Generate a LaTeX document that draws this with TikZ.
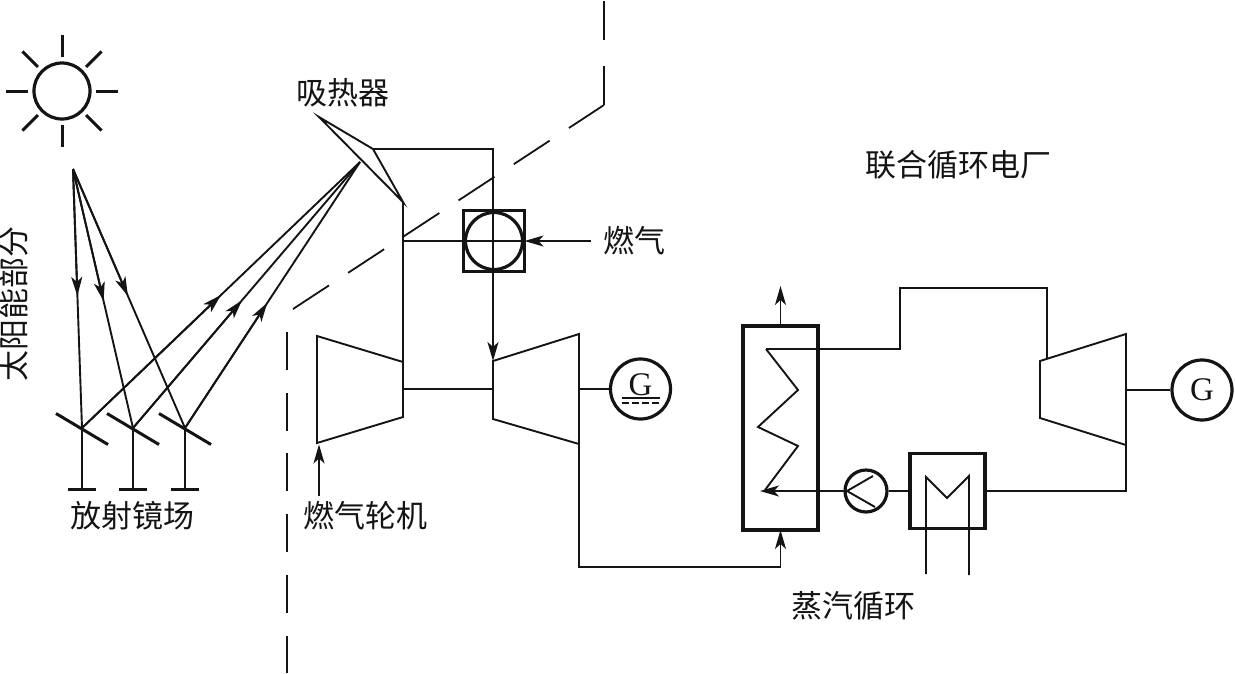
\documentclass[tikz,border=0pt]{standalone}
\usepackage{fontspec}
\usetikzlibrary{arrows.meta,calc}
\newfontfamily\cjk{Noto Sans CJK SC}
\newfontfamily\genfont{Liberation Serif}
\definecolor{plantink}{HTML}{141414}

\begin{document}
\begin{tikzpicture}[
  x=1pt,
  y=-1pt,
  every node/.style={plantink},
  pipe/.style={plantink, line width=1.9pt},
  flow/.style={plantink, line width=1.9pt,
               -{Stealth[length=19pt, width=11pt, inset=5pt]}},
  heavy/.style={plantink, line width=3pt},
  boundary/.style={plantink, line width=1.8pt},
  label/.style={font=\cjk\fontsize{31}{31}\selectfont, inner sep=0pt},
  vessel/.style={draw, plantink, line width=3.6pt, outer sep=0pt, inner sep=0pt},
  gencircle/.style={draw, circle, plantink, line width=3.2pt, inner sep=0pt,
               minimum size=60pt, font=\genfont\fontsize{33}{33}\selectfont}
]
  \useasboundingbox (0,0) rectangle (1235,673);

  % ---- sun ----------------------------------------------------------------
  \node[draw, circle, plantink, line width=3.2pt, inner sep=0pt,
        minimum size=56pt] (sun) at (62,91) {};
  \foreach \a in {0,45,...,315}
    \draw[heavy] ([shift={(\a:34)}]sun.center) -- ([shift={(\a:56)}]sun.center);

  % ---- heliostat field ----------------------------------------------------
  \coordinate (sunfocus) at (73,169);
  \coordinate (recvfocus) at (360,162);
  \foreach \m/\mx/\td/\tu in {a/82/.49/.50, b/133/.51/.48, c/185/.49/.47} {
    \coordinate (mirror\m) at (\mx,428);
    \coordinate (foot\m) at (\mx,489);
    \draw[heavy] ([shift={(-26,-14.5)}]mirror\m) -- ([shift={(26,16.5)}]mirror\m);
    \draw[pipe] (mirror\m) -- (foot\m);
    \draw[heavy] ([xshift=-14pt]foot\m) -- ([xshift=14pt]foot\m);
    % incoming and reflected beam, arrow near the middle of each
    \draw[pipe] (sunfocus) -- (mirror\m);
    \draw[flow] (sunfocus) -- ($(sunfocus)!\td!(mirror\m)$);
    \draw[pipe] (mirror\m) -- (recvfocus);
    \draw[flow] (mirror\m) -- ($(mirror\m)!\tu!(recvfocus)$);
  }

  % ---- receiver -----------------------------------------------------------
  \coordinate (recvtip) at (319,117);
  \coordinate (recvtop) at (373,149);
  \coordinate (recvlow) at (403,202);
  \draw[pipe] (recvtip) -- (recvtop) -- (recvlow) -- cycle;

  % ---- gas turbine set ----------------------------------------------------
  \coordinate (compa) at (317,336);
  \coordinate (compb) at (403,362);
  \coordinate (compc) at (403,417);
  \coordinate (compd) at (317,443);
  \draw[pipe] (compa) -- (compb) -- (compc) -- (compd) -- cycle;

  \coordinate (gasta) at (493,361);
  \coordinate (gastb) at (579,334);
  \coordinate (gastc) at (579,444);
  \coordinate (gastd) at (493,419);
  \draw[pipe] (gasta) -- (gastb) -- (gastc) -- (gastd) -- cycle;

  \node[vessel, minimum size=61pt] (burner) at (494,241) {};
  \node[draw, circle, plantink, line width=3.2pt, inner sep=0pt,
        minimum size=57pt] (burnerring) at (494,241) {};
  \node[gencircle] (gena) at (640.5,389) {};
  \node[inner sep=0pt, font=\genfont\fontsize{33}{33}\selectfont] (genaletter)
    at ([yshift=4pt]gena.center) {G};
  \draw[pipe] (622,398) -- (660,398);
  \draw[pipe, dash pattern=on 7pt off 3pt] (622,403) -- (660,403);

  \draw[pipe] (recvlow) -- (compb);
  \draw[flow] (recvtop) -| (gasta);
  \draw[pipe] (recvlow |- burner.center) -- (burner.east);
  \draw[pipe] (compb |- gena.center) -- (gasta |- gena.center);
  \draw[pipe] (gastb |- gena.center) -- (gena.west);

  % ---- steam cycle --------------------------------------------------------
  \node[vessel, minimum width=75pt, minimum height=204pt] (hrsg) at (780.5,428) {};
  \node[vessel, minimum width=75pt, minimum height=75pt] (condenser) at (947.5,491) {};
  \node[draw, circle, plantink, line width=3.2pt, inner sep=0pt,
        minimum size=42pt] (pump) at (866,491) {};
  \node[gencircle] (genb) at (1202,390) {G};

  \coordinate (steama) at (1040,361);
  \coordinate (steamb) at (1126,334);
  \coordinate (steamc) at (1126,445);
  \coordinate (steamd) at (1040,418);
  \draw[pipe] (steama) -- (steamb) -- (steamc) -- (steamd) -- cycle;

  % coil inside the boiler
  \coordinate (coilin) at (766,349);
  \coordinate (coilout) at (765,490);
  \draw[pipe] (coilin) -- (798,390) -- (758,427) -- (798,446) -- (coilout);
  \draw[pipe] (coilin) -- (900,349) -- (900,288) -- (1047,288) -- (1047,359);

  % exhaust through the boiler
  \coordinate (stackend) at (780.5,286);
  \draw[flow] (gastc) |- (780.5,567) -- (hrsg.south);
  \draw[flow] (hrsg.north) -- (stackend);

  \draw[pipe] (steamb |- genb.center) -- (genb.west);
  \draw[pipe] (steamc) |- (condenser.east);

  % condenser coil, its two legs leave through the bottom wall
  \draw[pipe] (926,574) -- (926,477) -- (947,498) -- (969,476) -- (969,575);

  % pump
  \coordinate (pumpvertex) at (847,491);
  \draw[pipe] (condenser.west) -- (pump.east);
  \draw[pipe] (873,476) -- (pumpvertex) -- (875,507);
  \draw[flow] (pump.center -| pumpvertex) -- (760,491);

  % ---- boundary between solar part and plant ------------------------------
  \coordinate (cornerbend) at (604,105);
  \draw[boundary, dash pattern=on 38pt off 22.7pt] (287,332) -- (287,673);
  \draw[boundary, dash pattern=on 43pt off 23pt] (293,309) -- (cornerbend);
  \draw[boundary, dash pattern=on 39pt off 26pt] (cornerbend) -- (604,0);

  % ---- labels -------------------------------------------------------------
  \node[label] (solarlabel) at (14,304) [rotate=90] {太阳能部分};
  \node[label] (fieldlabel) at (132,516) {放射镜场};
  \node[label] (recvlabel) at (343,93) {吸热器};
  \node[label] (gtlabel) at (365,516) {燃气轮机};
  \node[label] (fuellabel) at (634,241) {燃气};
  \node[label] (plantlabel) at (958,165) {联合循环电厂};
  \node[label] (steamlabel) at (853,606) {蒸汽循环};

  \draw[flow] (fuellabel.west -| 591,0) -- (burner.east);
  \draw[flow] (gtlabel.north -| compd) ++(2,-5) -- ++(0,-52);
\end{tikzpicture}
\end{document}
